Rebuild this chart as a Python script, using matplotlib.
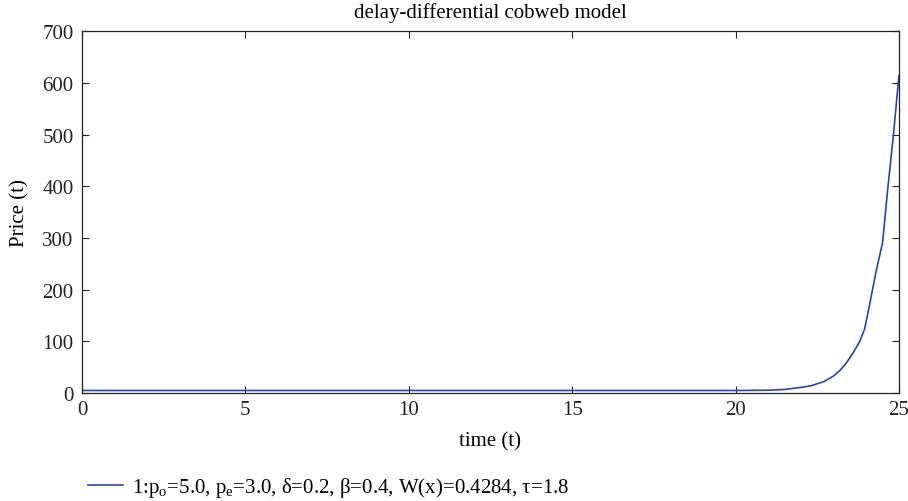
import matplotlib
matplotlib.use("Agg")
import matplotlib.pyplot as plt

# price trajectory
t = [0, 5, 10, 15, 20, 21.0, 21.5, 22.0, 22.3, 22.7, 23.0, 23.2, 23.4, 23.6, 23.8,
     23.95, 24.1, 24.3, 24.5, 24.65, 24.83, 25.0]
price = [5, 5, 5, 5, 5, 5.5, 7, 11, 14, 22, 33, 44, 59, 78, 100,
         124, 170, 235, 291, 390, 498, 614]

x_ticks = [0, 5, 10, 15, 20, 25]
y_ticks = [0, 100, 200, 300, 400, 500, 600, 700]
legend_label = "1:p$_\\mathrm{o}$=5.0, p$_\\mathrm{e}$=3.0, δ=0.2, β=0.4, W(x)=0.4284, τ=1.8"

plt.rcParams['font.family'] = ['Liberation Serif', 'DejaVu Serif']
plt.rcParams['mathtext.fontset'] = 'custom'
plt.rcParams['mathtext.rm'] = 'Liberation Serif'
plt.rcParams['font.size'] = 15

fig = plt.figure(figsize=(9.08, 5.02), dpi=100)
ax = fig.add_axes([0.0903, 0.215, 0.8997, 0.721])

ax.plot(t, price, color='#2a45a8', lw=1.2, label=legend_label)

ax.set_xlim(0, 25)
ax.set_ylim(0, 700)
ax.set_xticks(x_ticks)
ax.set_yticks(y_ticks)
ax.tick_params(direction='in', top=True, right=True, length=5, width=0.8, colors='#222222')
ax.tick_params(axis='x', pad=5)
ax.tick_params(axis='y', pad=6)
for s in ax.spines.values():
    s.set_linewidth(0.9)
    s.set_color('#222222')

ax.set_title("delay-differential cobweb model", fontsize=15, pad=10)
ax.set_xlabel("time (t)", labelpad=9)
ax.set_ylabel("Price (t)", labelpad=9)

fig.legend(loc='lower left', bbox_to_anchor=(0.0969, 0.004), frameon=False,
           borderpad=0, borderaxespad=0,
           handlelength=1.7, handletextpad=0.4, fontsize=15)

fig.savefig("out.png", dpi=100)
